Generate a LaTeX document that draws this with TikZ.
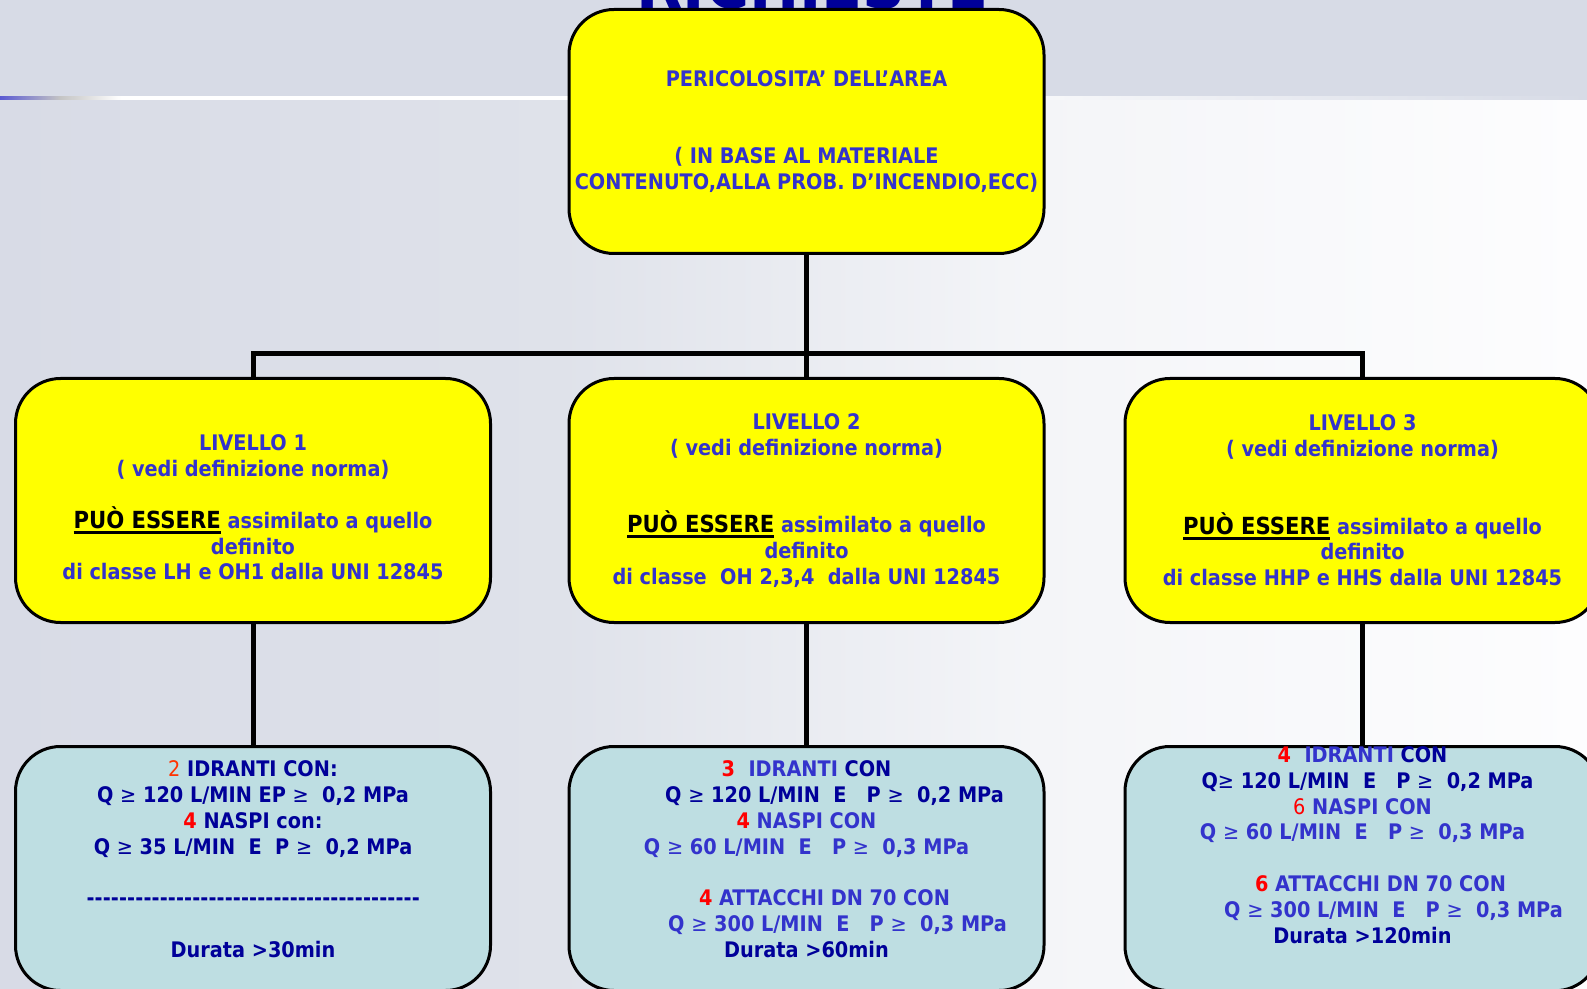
\documentclass[tikz,border=0pt]{standalone}
\usepackage{fontspec}
\setmainfont{DejaVu Sans Condensed}
\usetikzlibrary{positioning, calc, shadings}

\definecolor{giallo}{RGB}{255,255,0}
\definecolor{azzurro}{RGB}{190,222,226}
\definecolor{blu}{RGB}{51,51,204}
\definecolor{blunotte}{RGB}{0,0,153}
\definecolor{rosso}{RGB}{255,0,0}
\definecolor{arancio}{RGB}{255,51,0}
\definecolor{fascia}{RGB}{215,219,230}
\definecolor{fondoA}{RGB}{216,219,230}
\definecolor{fondoB}{RGB}{223,226,234}
\definecolor{fondoC}{RGB}{244,245,248}
\definecolor{fondoD}{RGB}{253,253,254}
\definecolor{bluriga}{RGB}{90,90,210}
\definecolor{grigioriga}{RGB}{196,196,196}

\pgfdeclarehorizontalshading{sfondo}{100bp}{color(0bp)=(fondoA); color(25bp)=(fondoA); color(42.6bp)=(fondoB); color(57.5bp)=(fondoC); color(75bp)=(fondoD); color(100bp)=(fondoD)}
\pgfdeclarehorizontalshading{striscia}{100bp}{color(0bp)=(bluriga); color(25bp)=(bluriga); color(26.9bp)=(grigioriga); color(28.8bp)=(white); color(53.4bp)=(white); color(75bp)=(fascia); color(100bp)=(fascia)}

\newcommand{\magg}{{\mdseries ≥}}
\newcommand{\trattini}{\hbox to 6.66cm{\xleaders\hbox{-}\hfill}}
\newcommand{\puo}{\textcolor{black}{\fontsize{13.4}{14.7}\selectfont\setbox0\hbox{PUÒ ESSERE}\rlap{\rule[-3.1pt]{\wd0}{1.6pt}}\box0}}

\begin{document}
\begin{tikzpicture}[
        scatola/.style={draw, line width=0.06cm, rounded corners=0.9cm, minimum width=9.5cm, minimum height=4.88cm, inner xsep=0.05cm, align=center, text=blu, font=\fontsize{12.2}{14.7}\selectfont\bfseries},
        gialla/.style={scatola, fill=giallo},
        celeste/.style={scatola, fill=azzurro},
        linea/.style={line width=0.1cm}]

        \clip (0,0) rectangle (31.74,-19.78);
        \useasboundingbox (0,0) rectangle (31.74,-19.78);
        \fill[fascia] (0,0) rectangle (31.74,-1.94);
        \shade[shading=striscia] (0,-1.94) rectangle (31.74,-2.02);
        \shade[shading=sfondo] (0,-2.02) rectangle (31.74,-19.78);

        \node[text=blunotte, font=\fontsize{38}{42}\selectfont\bfseries, anchor=base] (T) at (16.25,-0.18) {RICHIESTE};

        \node[gialla] (P) at (16.13,-2.63) {PERICOLOSITA’ DELL’AREA\\ \\ \\( IN BASE AL MATERIALE\\CONTENUTO,ALLA PROB. D’INCENDIO,ECC)};

        \node[gialla, below= 2.44cm of P] (L2) {LIVELLO 2\\( vedi definizione norma)\\ \\ \\\puo{} assimilato a quello\\definito\\di classe~ OH 2,3,4~ dalla UNI 12845};
        \node[gialla, left= 1.51cm of L2] (L1) {\rule{0pt}{0.6cm}LIVELLO 1\\( vedi definizione norma)\\ \\\puo{} assimilato a quello\\definito\\di classe LH e OH1 dalla UNI 12845};
        \node[gialla, right= 1.56cm of L2] (L3) {LIVELLO 3\\( vedi definizione norma)\\ \\ \\\puo{} assimilato a quello\\definito\\di classe HHP e HHS dalla UNI 12845};

        \node[celeste, text=blunotte, below= 2.42cm of L1] (R1) {{\mdseries\textcolor{arancio}{2}} IDRANTI CON:\\Q \magg\ 120 L/MIN EP \magg~ 0,2 MPa\\\textcolor{rosso}{4} NASPI con:\\Q \magg\ 35 L/MIN~ E~ P \magg~ 0,2 MPa\\ \\\trattini\\ \\Durata >30min\rule[-0.38cm]{0pt}{0.38cm}};
        \node[celeste, below= 2.42cm of L2] (R2) {\textcolor{rosso}{3}~ IDRANTI \textcolor{blunotte}{CON}\\\hspace*{1.12cm}\textcolor{blunotte}{Q \magg\ 120 L/MIN~ E~~ P \magg~ 0,2 MPa}\\\textcolor{rosso}{4} NASPI CON\\Q \magg\ 60 L/MIN~ E~~ P \magg~ 0,3 MPa\\ \\\hspace*{0.72cm}\textcolor{rosso}{4} ATTACCHI DN 70 CON\\\hspace*{1.24cm}Q \magg\ 300 L/MIN~ E~~ P \magg~ 0,3 MPa\\\textcolor{blunotte}{Durata >60min}\rule[-0.38cm]{0pt}{0.38cm}};
        \node[celeste, inner ysep=0cm, below= 2.42cm of L3] (R3) {\textcolor{rosso}{4}~ IDRANTI \textcolor{blunotte}{CON}\\\hspace*{0.2cm}\textcolor{blunotte}{Q\magg\ 120 L/MIN~ E~~ P \magg~ 0,2 MPa}\\{\mdseries\textcolor{rosso}{6}} NASPI CON\\Q \magg\ 60 L/MIN~ E~~ P \magg~ 0,3 MPa\\ \\\hspace*{0.72cm}\textcolor{rosso}{6} ATTACCHI DN 70 CON\\\hspace*{1.24cm}Q \magg\ 300 L/MIN~ E~~ P \magg~ 0,3 MPa\\\textcolor{blunotte}{Durata >120min}\rule[-0.95cm]{0pt}{0.95cm}};

        \coordinate[above= 0.46cm of L2.north] (B);

        \draw[linea] (P) -- (L2);
        \draw[linea] (L1) |- (B) -| (L3);
        \draw[linea] (L1) -- (R1);
        \draw[linea] (L2) -- (R2);
        \draw[linea] (L3) -- (R3);

\end{tikzpicture}
\end{document}
